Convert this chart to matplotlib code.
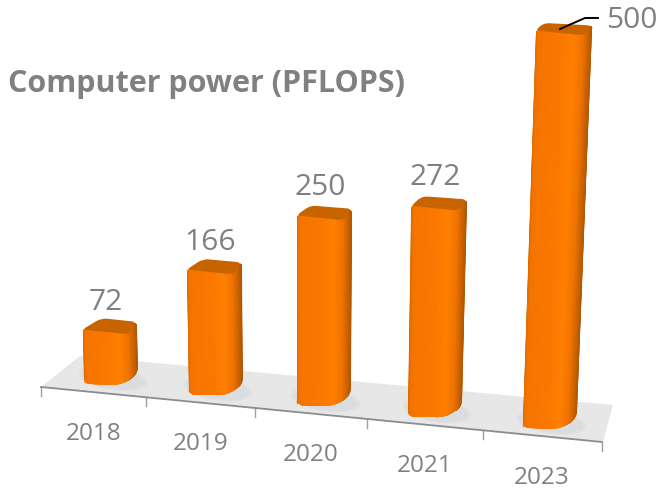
import numpy as np
import matplotlib
matplotlib.use("Agg")
import matplotlib.pyplot as plt
from matplotlib.colors import LinearSegmentedColormap
from matplotlib.patches import Ellipse, PathPatch, Polygon
from matplotlib.path import Path

plt.rcParams['font.family'] = ['Open Sans', 'DejaVu Sans']

years = ['2018', '2019', '2020', '2021', '2023']
power = [72, 166, 250, 272, 500]
title = 'Computer power (PFLOPS)'

GREY = '#808080'
TOP_COLOR = '#C86400'
body_cmap = LinearSegmentedColormap.from_list('body', [
    (0.0, '#D96A00'), (0.05, '#F57400'), (0.45, '#FB7800'), (0.68, '#FF8000'),
    (0.84, '#F07300'), (0.93, '#CC6400'), (1.0, '#B05600')])


def tick_x(i):
    return 41 + 103.5 * i + 1.73 * i ** 2


def front_y(x):
    return 387 + 0.098 * (x - 41)


def height_of(value, x):
    return value * (0.745 + 2.5e-7 * (x - 110) ** 2)


def rounded_poly(points, radii):
    verts, codes = [], []
    n = len(points)
    for k in range(n):
        p = np.array(points[k], float)
        prev_p = np.array(points[k - 1], float)
        next_p = np.array(points[(k + 1) % n], float)
        r = radii[k]
        a = p + (prev_p - p) / np.linalg.norm(prev_p - p) * r
        b = p + (next_p - p) / np.linalg.norm(next_p - p) * r
        verts.append(a)
        codes.append(Path.MOVETO if k == 0 else Path.LINETO)
        verts += [p, b]
        codes += [Path.CURVE3, Path.CURVE3]
    verts.append(verts[0])
    codes.append(Path.CLOSEPOLY)
    return Path(verts, codes)


def draw_bar(ax, i, value):
    slot = tick_x(i + 0.5)
    xc = slot + 18 - 0.0225 * (slot - 93)
    base = front_y(slot) - 8
    h = height_of(value, xc)
    lean = 1.44e-4 * (xc - 322) * h
    left = xc - 27

    def place(dx, up):
        grow = 1 + 0.05 * up / 397
        return (left + dx * grow + lean * up / h, base - up)

    depth = 1 - 0.35 * h / 400
    back = 19 - 12 * (xc - 110) / 440
    body = [place(0, 3), place(2, 0), place(38, -1), place(54, 10),
            place(54, h + 8 * depth), place(0, h + 1)]
    clip = PathPatch(rounded_poly(body, [3, 5, 11, 8, 3, 3]),
                     transform=ax.transData, fc='none', ec='none')
    ax.add_patch(clip)

    cols = np.linspace(0, 54, 60)
    ups = np.array([-4, h + 20])
    xs = np.array([[place(c, u)[0] for c in cols] for u in ups])
    ys = np.array([[place(c, u)[1] for c in cols] for u in ups])
    colors = np.tile(cols / 54, (2, 1))
    mesh = ax.pcolormesh(xs, ys, colors, cmap=body_cmap, vmin=0, vmax=1,
                         shading='gouraud', zorder=3)
    mesh.set_clip_path(clip)

    top = [place(0, h + 1), place(back, h + 13 * depth),
           place(54, h + 9 * depth), place(46, h - 4)]
    ax.add_patch(PathPatch(rounded_poly(top, [4, 6, 5, 6]), fc=TOP_COLOR,
                           ec='none', zorder=4))
    return xc, base, h, place(27, h)[0], base - h - 13 * depth


fig = plt.figure(figsize=(6.6, 4.9), dpi=100)
ax = fig.add_axes([0, 0, 1, 1])
ax.set_xlim(0, 660)
ax.set_ylim(490, 0)
ax.axis('off')

floor = Polygon([(41, 387), (80, 356), (613, 405), (603, 442)],
                fc='#E7E7E7', ec='none', zorder=1)
ax.add_patch(floor)

for i, value in enumerate(power):
    xc, base, h, top_x, top_y = draw_bar(ax, i, value)
    for grow in [1.0, 0.9]:
        shade = Ellipse((xc + 2, base - 6), 70 * grow, 24 * grow, angle=8,
                        fc='#C5CDD5', ec='none', alpha=0.2, zorder=2)
        ax.add_patch(shade)
        shade.set_clip_path(floor)
    if value == 500:
        ax.plot([560, 585, 598], [29, 18, 18], color='black', lw=1.4, zorder=5)
        ax.text(606, 21, str(value), color=GREY, fontsize=21.5, ha='left', va='center')
    else:
        ax.text(top_x - 4, top_y - 15 - 0.015 * h, str(value), color=GREY,
                fontsize=21.5, ha='center', va='center')

for i in range(len(years) + 1):
    x = tick_x(i)
    ax.plot([x, x], [front_y(x), front_y(x) + 9], color='#A0A0A0', lw=1, zorder=2)
ax.plot([tick_x(0), tick_x(5)], [front_y(tick_x(0)), front_y(tick_x(5))],
        color='#8C8C8C', lw=1.3, zorder=2)

for i, year in enumerate(years):
    x = tick_x(i + 0.5)
    ax.text(x, front_y(x) + 41.5, year, color=GREY, fontsize=17.5, ha='center', va='center')

ax.text(8, 84, title, color=GREY, fontsize=22, fontweight='bold', ha='left', va='center')

fig.savefig('out.png', dpi=100)
